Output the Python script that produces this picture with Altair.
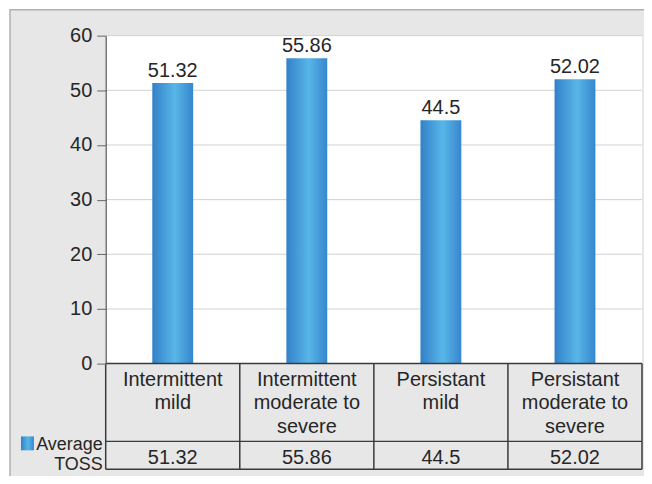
import altair as alt
import pandas as pd

# ---- data ----
categories = ["Intermittent mild", "Intermittent moderate to severe",
              "Persistant mild", "Persistant moderate to severe"]
category_labels = ["Intermittent\nmild", "Intermittent\nmoderate to\nsevere",
                   "Persistant\nmild", "Persistant\nmoderate to\nsevere"]
values = [51.32, 55.86, 44.5, 52.02]
y_ticks = [0, 10, 20, 30, 40, 50, 60]
series_name = "Average\nTOSS"

W, H = 538, 329
FONT = "Liberation Sans"
FS = 20
TXT = "#262626"
LINE = "#3a3a3a"

df = pd.DataFrame({
    "cat": categories,
    "label": category_labels,
    "val": values,
    "txt": [str(v) for v in values],
})
ticks_df = pd.DataFrame({"tick": y_ticks[1:]})

grad = alt.Gradient(
    gradient="linear", x1=0, x2=1, y1=0, y2=0,
    stops=[alt.GradientStop(color="#3381c9", offset=0),
           alt.GradientStop(color="#58b6e8", offset=0.55),
           alt.GradientStop(color="#3786cd", offset=1)],
)

xenc = alt.X("cat:N", sort=categories,
             scale=alt.Scale(paddingInner=0, paddingOuter=0), axis=None)
yaxis = alt.Axis(values=y_ticks, grid=False, title=None, domainColor="#555",
                 tickColor="#666", tickSize=9, labelFontSize=FS, labelFont=FONT,
                 labelColor=TXT, labelPadding=5, domainWidth=1.2, zindex=1)
yscale = alt.Scale(domain=[0, 60], nice=False)

one = alt.Data(values=[{"k": 1}])

outer = alt.Chart(one).mark_rect(fill="#e7e7e8", stroke="#b0b0b0", strokeWidth=1.5).encode(
    x=alt.value(-96), x2=alt.value(560), y=alt.value(-26), y2=alt.value(520))
plotbg = alt.Chart(one).mark_rect(fill="white").encode(
    x=alt.value(0), x2=alt.value(W), y=alt.value(0), y2=alt.value(H))

grid = alt.Chart(ticks_df).mark_rule(color="#d2d2d2", strokeWidth=1).encode(
    y=alt.Y("tick:Q", scale=yscale, axis=yaxis),
    x=alt.value(0), x2=alt.value(W))

bars = alt.Chart(df).mark_bar(size=41, color=grad).encode(
    x=xenc, y=alt.Y("val:Q", scale=yscale, axis=yaxis))

labels = alt.Chart(df).mark_text(dy=-6, baseline="alphabetic", fontSize=FS,
                                 font=FONT, color=TXT).encode(
    x=xenc, y=alt.Y("val:Q", scale=yscale, axis=yaxis), text="txt:N")

# table lines
hl_top = alt.Chart(one).mark_rule(color=LINE, strokeWidth=1.5).encode(
    x=alt.value(0), x2=alt.value(W), y=alt.value(H))
hl_mid = alt.Chart(one).mark_rule(color=LINE, strokeWidth=1.5).encode(
    x=alt.value(0), x2=alt.value(W), y=alt.value(407))
hl_bot = alt.Chart(one).mark_rule(color=LINE, strokeWidth=1.5).encode(
    x=alt.value(0), x2=alt.value(W), y=alt.value(435))
vl = alt.Chart(df).mark_rule(color=LINE, strokeWidth=1.5).encode(
    x=alt.X("cat:N", sort=categories, bandPosition=0,
            scale=alt.Scale(paddingInner=0, paddingOuter=0), axis=None),
    y=alt.value(H), y2=alt.value(435))
vr = alt.Chart(one).mark_rule(color=LINE, strokeWidth=1.5).encode(
    x=alt.value(W), y=alt.value(H), y2=alt.value(435))

cat_text = alt.Chart(df).mark_text(lineBreak="\n", lineHeight=24, fontSize=FS,
                                   font=FONT, color=TXT, baseline="alphabetic").encode(
    x=xenc, y=alt.value(351), text="label:N")
val_text = alt.Chart(df).mark_text(fontSize=FS, font=FONT, color=TXT,
                                   baseline="alphabetic").encode(
    x=xenc, y=alt.value(430), text="txt:N")

legend_sq = alt.Chart(one).mark_rect(color=grad).encode(
    x=alt.value(-85), x2=alt.value(-72), y=alt.value(402), y2=alt.value(416))
legend_txt = alt.Chart(alt.Data(values=[{"name": series_name}])).mark_text(
    lineBreak="\n", lineHeight=20, fontSize=18, font=FONT, color=TXT,
    align="right", baseline="alphabetic").encode(
    x=alt.value(-3), y=alt.value(416), text="name:N")

chart = alt.layer(
    outer, plotbg, grid, bars, labels, hl_top, hl_mid, hl_bot, vl, vr,
    cat_text, val_text, legend_sq, legend_txt
).properties(
    width=W, height=H,
    autosize=alt.AutoSizeParams(type="none"),
    padding={"left": 98, "top": 27, "right": 2, "bottom": 112},
).configure(background="white").configure_view(stroke=None)

chart.save("out.html", embed_options={"renderer": "svg", "actions": False})
